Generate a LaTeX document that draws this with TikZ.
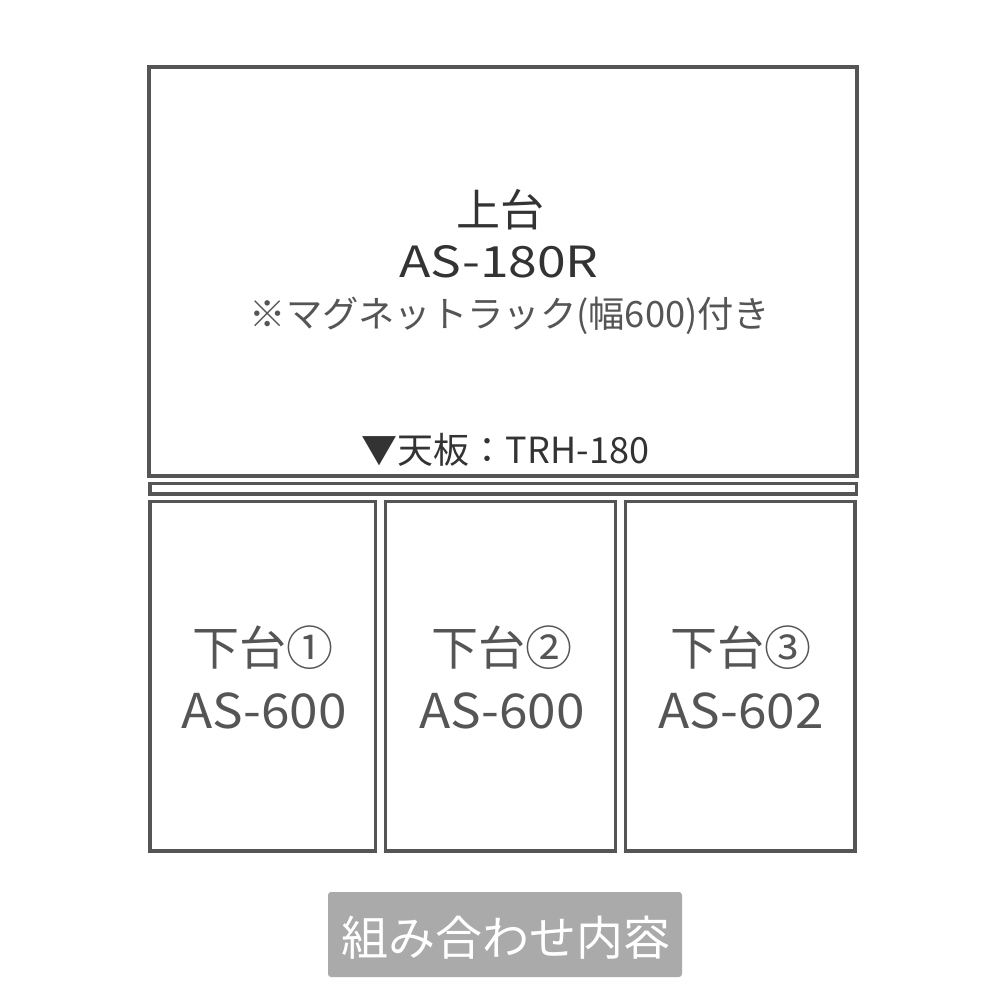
\documentclass[tikz,border=0pt]{standalone}
\usepackage{graphicx}
\usepackage{fontspec}
\setmainfont{Noto Sans CJK JP}
\definecolor{linegray}{RGB}{85,85,85}
\definecolor{darktext}{RGB}{51,51,51}
\definecolor{midtext}{RGB}{85,85,85}
\definecolor{btngray}{RGB}{170,170,170}
\tikzset{
  box/.style={draw=linegray, line width=3.6pt},
  lbl/.style={inner sep=0pt, anchor=base},
}
\begin{document}
\begin{tikzpicture}[x=1pt,y=-1pt]
\useasboundingbox (0,0) rectangle (1000,1000);
% boxes
\draw[box] (149,67) rectangle (857,476);
\draw[box] (150,483.5) rectangle (856.5,494);
\draw[box] (150,501.5) rectangle (375.5,851);
\draw[box] (385.5,501.5) rectangle (615.5,851);
\draw[box] (625.5,501.5) rectangle (855,851);
% top texts
\node[lbl, text=darktext, font=\fontsize{44}{44}\selectfont] (t1) at (500,227) {上台};
\node[lbl, text=darktext, font=\fontsize{43}{43}\selectfont] (t2) at (499,277) {\scalebox{1.2}[1]{AS-180R}};
\node[lbl, text=midtext, font=\fontsize{36.3}{36.3}\selectfont] (t3) at (510,327) {※マグネットラック(幅600)付き};
\node[lbl, text=darktext, font=\fontsize{36}{36}\selectfont] (t4) at (505.5,463) {▼天板：TRH-180};
% lower texts
\node[lbl, text=midtext, font=\fontsize{47}{47}\selectfont] (a1) at (263,665) {下台①};
\node[lbl, text=midtext, font=\fontsize{48}{48}\selectfont] (b1) at (264,728) {\scalebox{1.07}[1]{AS-600}};
\node[lbl, text=midtext, font=\fontsize{47}{47}\selectfont] (a2) at (502,665) {下台②};
\node[lbl, text=midtext, font=\fontsize{48}{48}\selectfont] (b2) at (502,728) {\scalebox{1.07}[1]{AS-600}};
\node[lbl, text=midtext, font=\fontsize{47}{47}\selectfont] (a3) at (741,665) {下台③};
\node[lbl, text=midtext, font=\fontsize{48}{48}\selectfont] (b3) at (741,728) {\scalebox{1.07}[1]{AS-602}};
% button
\fill[btngray, rounded corners=3pt] (328,892) rectangle (682,977);
\node[lbl, text=white, font=\fontsize{47}{47}\selectfont] (btn) at (506,955) {組み合わせ内容};
\end{tikzpicture}
\end{document}
